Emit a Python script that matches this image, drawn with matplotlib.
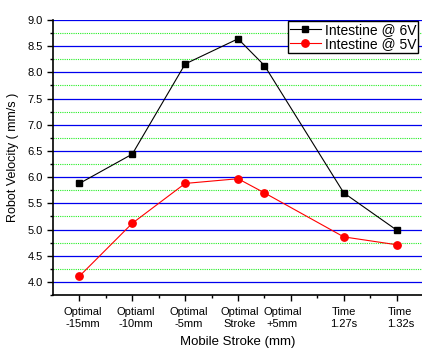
import matplotlib
matplotlib.use("Agg")
import matplotlib.pyplot as plt
from matplotlib.ticker import MultipleLocator, FormatStrFormatter

plt.rcParams['font.family'] = ['Liberation Sans', 'DejaVu Sans']

# x positions (category slots) and tick labels
x_pos = [1, 2, 3, 4, 4.5, 6, 7]
tick_labels = ["Optimal\n-15mm", "Optiaml\n-10mm", "Optimal\n-5mm", "Optimal\nStroke",
               "Optimal\n+5mm", "Time\n1.27s", "Time\n1.32s"]
# where each label sits along the axis (the +5mm label is nudged right in the original)
label_pos = [1.07, 2.07, 3.07, 4.04, 4.84, 6.0, 7.07]

v6 = [5.88, 6.44, 8.16, 8.64, 8.13, 5.70, 4.99]
v5 = [4.11, 5.12, 5.88, 5.97, 5.70, 4.86, 4.71]

fig = plt.figure(figsize=(4.22, 3.5), dpi=100)
ax = fig.add_axes([0.1256, 0.157, 0.8744, 0.786])

ax.set_xlim(0.5, 7.48)
ax.set_ylim(3.75, 9.0)

ax.yaxis.set_major_locator(MultipleLocator(0.5))
ax.yaxis.set_minor_locator(MultipleLocator(0.25))
ax.grid(True, which='major', axis='y', color='#0000ee', lw=0.9, ls='-')
ax.grid(True, which='minor', axis='y', color='#22ee22', lw=0.8, ls=(0, (1, 1)))
ax.set_axisbelow(True)

ax.plot(x_pos, v6, color='black', lw=0.8, marker='s', ms=4.8, label='Intestine @ 6V', zorder=3)
ax.plot(x_pos, v5, color='red', lw=0.8, marker='o', ms=5.3, label='Intestine @ 5V', zorder=3)

ax.set_xticks([1, 2, 3, 4, 5, 6, 7])
ax.set_xticks([1.5, 2.5, 3.5, 4.5, 5.5, 6.5], minor=True)
ax.set_xticklabels([])
for p, lab in zip(label_pos, tick_labels):
    ax.text(p, -0.045, lab, transform=ax.get_xaxis_transform(), ha='center', va='top',
            fontsize=8, linespacing=1.15)

ax.tick_params(axis='both', which='major', direction='out', length=4, width=1, labelsize=8)
ax.tick_params(axis='both', which='minor', direction='out', length=2, width=1)
ax.yaxis.set_major_formatter(FormatStrFormatter('%.1f'))

for s in ['top', 'right']:
    ax.spines[s].set_visible(False)
ax.spines['left'].set_linewidth(1.2)
ax.spines['bottom'].set_linewidth(1.2)

ax.set_ylabel("Robot Velocity ( mm/s )", fontsize=9, labelpad=6)
fig.text(0.563, 0.005, "Mobile Stroke (mm)", fontsize=9.5, ha='center', va='bottom')

leg = ax.legend(loc='upper right', bbox_to_anchor=(0.99, 0.998), fontsize=10, frameon=True,
                fancybox=False, edgecolor='black', framealpha=1, borderpad=0.15,
                handlelength=2.2, handletextpad=0.3, labelspacing=0.05, borderaxespad=0)
leg.get_frame().set_linewidth(1.0)

fig.savefig("out.png", dpi=100)
